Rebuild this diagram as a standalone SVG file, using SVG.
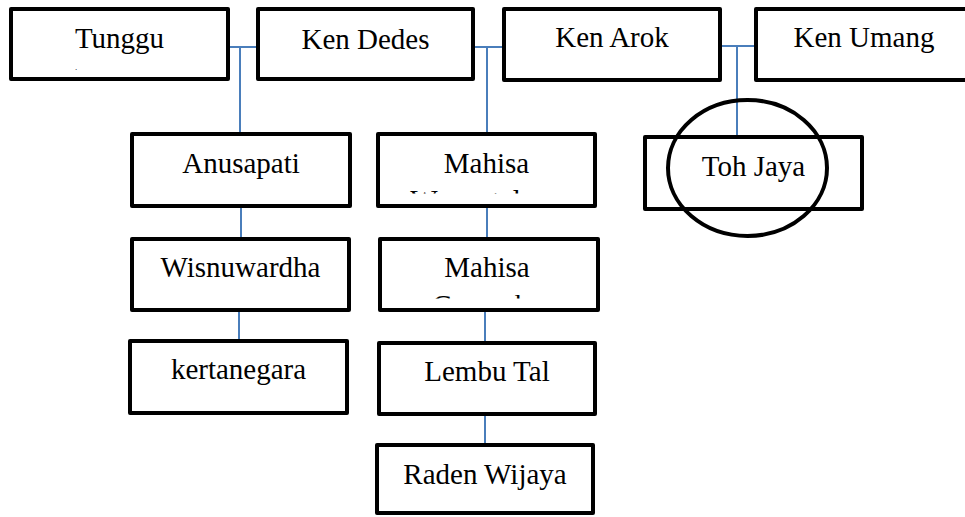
<svg xmlns="http://www.w3.org/2000/svg" width="965" height="517" viewBox="0 0 965 517">
<style>
.box{fill:#fff;stroke:#000;stroke-width:4;stroke-linejoin:round}
.lbl{font-size:29px;fill:#000;text-anchor:middle}
.dot{font-size:9px;fill:#000;text-anchor:middle}
.con{stroke:#4a7ebb;stroke-width:2;fill:none}
</style>
<defs>
<clipPath id="clipM1"><rect x="380" y="136" width="213" height="57.5"/></clipPath>
<clipPath id="clipM2"><rect x="382" y="241" width="214" height="57.5"/></clipPath>
</defs>
<rect width="965" height="517" fill="#fff"/>
<g id="connectors">
<path class="con" d="M230 47H256M240 47V132"/>
<path class="con" d="M475 47H502M487 47V132"/>
<path class="con" d="M722 46H754M737 46V135"/>
<path class="con" d="M241 208V237"/>
<path class="con" d="M239 312V339"/>
<path class="con" d="M487 208V237"/>
<path class="con" d="M485 312V341"/>
<path class="con" d="M485 416V443"/>
</g>
<g font-family="'Liberation Serif', 'DejaVu Serif', serif">
<g id="tunggu">
<rect class="box" x="11" y="9" width="217" height="70"/>
<text class="lbl" x="119.5" y="48">Tunggu</text>
<text class="dot" x="76" y="70">.</text>
</g>
<g id="ken-dedes">
<rect class="box" x="258" y="9" width="215" height="70"/>
<text class="lbl" x="365.5" y="49">Ken Dedes</text>
</g>
<g id="ken-arok">
<rect class="box" x="504" y="9" width="216" height="71"/>
<text class="lbl" x="612" y="47">Ken Arok</text>
</g>
<g id="ken-umang">
<rect class="box" x="756" y="9" width="218" height="71"/>
<text class="lbl" x="864" y="47">Ken Umang</text>
</g>
<g id="anusapati">
<rect class="box" x="132" y="134" width="218" height="72"/>
<text class="lbl" x="241" y="173">Anusapati</text>
</g>
<g id="mahisa-wongateleng">
<rect class="box" x="378" y="134" width="217" height="72"/>
<text class="lbl" x="486.5" y="173">Mahisa</text>
<text class="lbl" x="486.5" y="209.5" clip-path="url(#clipM1)">Wongateleng</text>
</g>
<g id="toh-jaya">
<rect class="box" x="645" y="137" width="217" height="72"/>
<text class="lbl" x="753.5" y="176">Toh Jaya</text>
<ellipse cx="747.5" cy="168" rx="79.5" ry="68" fill="none" stroke="#000" stroke-width="4"/>
</g>
<g id="wisnuwardha">
<rect class="box" x="132" y="239" width="217" height="71"/>
<text class="lbl" x="240.5" y="277">Wisnuwardha</text>
</g>
<g id="mahisa-campaka">
<rect class="box" x="380" y="239" width="218" height="71"/>
<text class="lbl" x="487" y="277">Mahisa</text>
<text class="lbl" x="487" y="314.5" clip-path="url(#clipM2)">Campaka</text>
</g>
<g id="kertanegara">
<rect class="box" x="130" y="341" width="217" height="72"/>
<text class="lbl" x="238.5" y="379">kertanegara</text>
</g>
<g id="lembu-tal">
<rect class="box" x="379" y="343" width="216" height="71"/>
<text class="lbl" x="487" y="381">Lembu Tal</text>
</g>
<g id="raden-wijaya">
<rect class="box" x="377" y="445" width="216" height="68"/>
<text class="lbl" x="485" y="484">Raden Wijaya</text>
</g>
</g>
</svg>
